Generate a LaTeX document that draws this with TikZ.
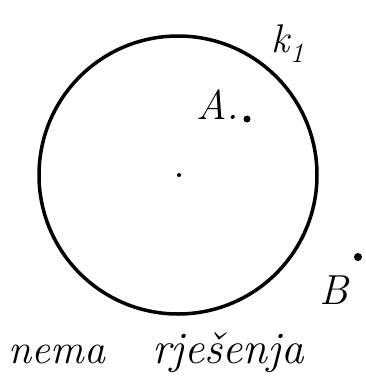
\documentclass[tikz,border=0pt]{standalone}
\usepackage{fontspec}
\begin{document}
\begin{tikzpicture}[x=1pt,y=-1pt,
  lbl/.style={inner sep=0pt,font=\itshape\fontsize{42}{46}\selectfont},
  pt/.style={fill=black,circle,inner sep=0pt}]
\useasboundingbox (0,0) rectangle (365,381);
\node[draw,circle,line width=3.5pt,minimum size=278pt,inner sep=0pt] (k) at (178,175) {};
\node[pt,minimum size=4pt] (O) at (179,175) {};
\node[pt,minimum size=7pt] (A) at (247,119) {};
\node[lbl,anchor=base] (Al) at (218,119) {A.};
\node[pt,minimum size=8pt] (B) at (358,257) {};
\node[lbl,anchor=base] (Bl) at (334,304) {B};
\node[lbl,anchor=base,font=\itshape\fontsize{40}{44}\selectfont] (kl) at (288,52) {k\textsubscript{1}};
\node[lbl,anchor=base] (t1) at (57,363) {nema};
\node[lbl,anchor=base,font=\itshape\fontsize{45}{48}\selectfont] (t2) at (228,363) {rješenja};
\end{tikzpicture}
\end{document}
